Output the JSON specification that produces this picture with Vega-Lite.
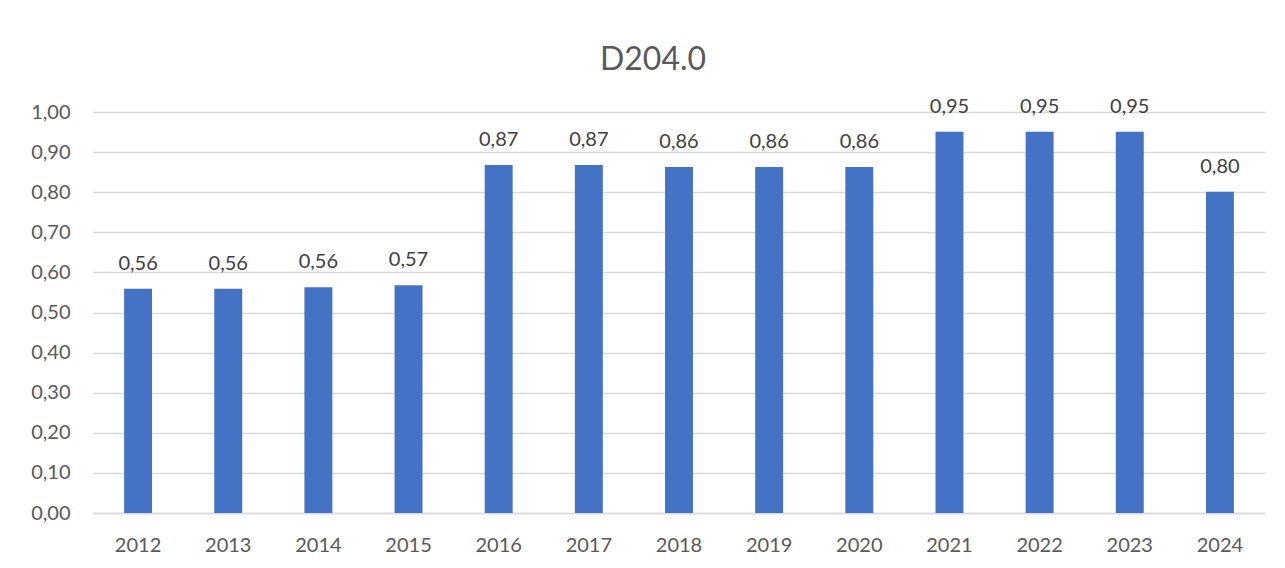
{
  "$schema": "https://vega.github.io/schema/vega-lite/v6.json",
  "autosize": {"type": "none"},
  "width": 1172,
  "height": 401,
  "padding": {"left": 93, "top": 112, "right": 20, "bottom": 55},
  "background": "white",
  "config": {
    "locale": {"number": {"decimal": ",", "thousands": ".", "grouping": [3], "currency": ["", " €"]}},
    "view": {"stroke": null},
    "font": "Lato"
  },
  "title": {
    "text": "D204.0",
    "fontSize": 32,
    "font": "Lato",
    "fontWeight": "normal",
    "color": "#595959",
    "anchor": "middle",
    "baseline": "bottom",
    "offset": -12,
    "dx": -26
  },
  "data": {
    "values": [
      {"year": "2012", "value": 0.559},
      {"year": "2013", "value": 0.559},
      {"year": "2014", "value": 0.563},
      {"year": "2015", "value": 0.568},
      {"year": "2016", "value": 0.868},
      {"year": "2017", "value": 0.868},
      {"year": "2018", "value": 0.863},
      {"year": "2019", "value": 0.863},
      {"year": "2020", "value": 0.863},
      {"year": "2021", "value": 0.951},
      {"year": "2022", "value": 0.951},
      {"year": "2023", "value": 0.951},
      {"year": "2024", "value": 0.801}
    ]
  },
  "encoding": {
    "x": {
      "field": "year",
      "type": "ordinal",
      "scale": {"paddingInner": 0.69, "paddingOuter": 0.345},
      "axis": {
        "title": null,
        "labelAngle": 0,
        "labelFontSize": 20,
        "labelColor": "#595959",
        "labelPadding": 22,
        "ticks": false,
        "domainColor": "#d9d9d9",
        "domainWidth": 1.5,
        "grid": false
      }
    },
    "y": {
      "field": "value",
      "type": "quantitative",
      "scale": {"domain": [0, 1]},
      "axis": {
        "title": null,
        "format": ".2f",
        "values": [0, 0.1, 0.2, 0.3, 0.4, 0.5, 0.6, 0.7, 0.8, 0.9, 1.0],
        "labelFontSize": 20,
        "labelColor": "#595959",
        "labelPadding": 23,
        "ticks": false,
        "domain": false,
        "gridColor": "#d9d9d9",
        "gridWidth": 1.5
      }
    }
  },
  "layer": [
    {"mark": {"type": "bar", "color": "#4472C4"}},
    {
      "mark": {"type": "text", "baseline": "bottom", "dy": -15, "fontSize": 20, "color": "#404040"},
      "encoding": {"text": {"field": "value", "type": "quantitative", "format": ".2f"}}
    }
  ]
}
